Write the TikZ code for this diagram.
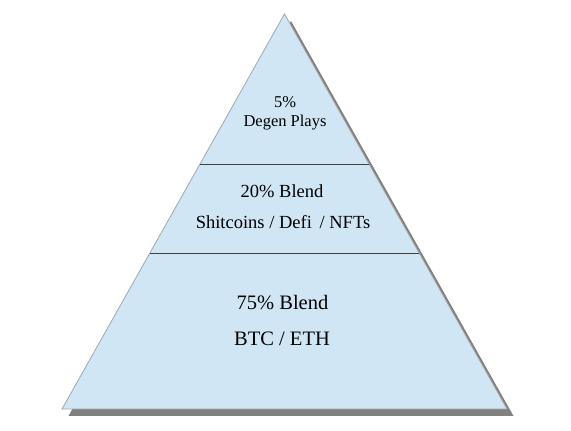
\documentclass[tikz,border=0pt]{standalone}
\usepackage{fontspec}
\setmainfont{Liberation Serif}
\usepackage{tikz}
\definecolor{tierfill}{RGB}{208,230,244}
\definecolor{shadowgray}{RGB}{128,128,128}

\begin{document}
\begin{tikzpicture}[x=1pt, y=1pt]
  \useasboundingbox (0,0) rectangle (571,431);
  \coordinate (apex) at (284.5,417);
  \coordinate (bl) at (62,22);
  \coordinate (br) at (507,22);
  \coordinate (upl) at (199.7,267); \coordinate (upr) at (368.8,267);
  \coordinate (lol) at (150,178); \coordinate (lor) at (418.5,178);
  \fill[shadowgray] ([shift={(6.5,-7)}]apex) -- ([shift={(6.5,-7)}]br) -- ([shift={(6.5,-7)}]bl) -- cycle;
  \draw[fill=tierfill, draw=gray!70, line width=0.8pt] (apex) -- (br) -- (bl) -- cycle;
  \draw[black!75, line width=0.9pt] (upl) -- (upr);
  \draw[black!75, line width=0.9pt] (lol) -- (lor);
  \node[anchor=base, font=\fontsize{16.5}{18}\selectfont] (topa) at (285,323) {5\%};
  \node[anchor=base, font=\fontsize{16.5}{18}\selectfont] (topb) at (285,304) {Degen Plays};
  \node[anchor=base, font=\fontsize{18.5}{21}\selectfont] (mida) at (282,233) {20\% Blend};
  \node[anchor=base, font=\fontsize{18.5}{21}\selectfont] (midb) at (283,202) {Shitcoins / Defi\, / NFTs};
  \node[anchor=base, font=\fontsize{20.5}{24}\selectfont] (lowa) at (282.5,121) {75\% Blend};
  \node[anchor=base, font=\fontsize{20.5}{24}\selectfont] (lowb) at (282,85) {BTC / ETH};
\end{tikzpicture}
\end{document}
